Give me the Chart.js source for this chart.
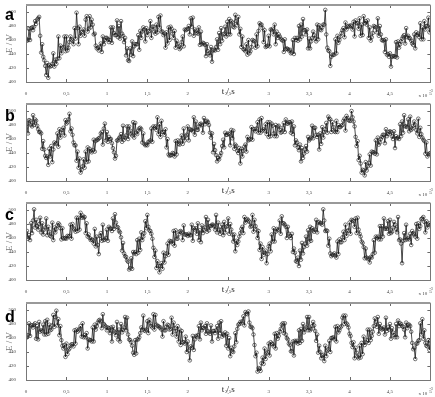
<!DOCTYPE html>
<html>
<head>
<meta charset="utf-8">
<script src="https://cdn.jsdelivr.net/npm/chart.js@4/dist/chart.umd.min.js"></script>
<style>
body { margin: 0; background: #fff; width: 435px; height: 397px; position: relative; overflow: hidden; }
.panel { position: absolute; left: 0; width: 435px; height: 99px; }
.letter { position: absolute; left: 5px; font: bold 16px "Liberation Sans", Arial, sans-serif; line-height: 16px; color: #000; }
</style>
</head>
<body>

<div class="panel" style="top:0px"><canvas id="chartA" width="435" height="99"></canvas></div>
<div class="panel" style="top:99px"><canvas id="chartB" width="435" height="99"></canvas></div>
<div class="panel" style="top:198px"><canvas id="chartC" width="435" height="99"></canvas></div>
<div class="panel" style="top:298px"><canvas id="chartD" width="435" height="99"></canvas></div>

<div class="letter" style="top:7px">a</div>
<div class="letter" style="top:108px">b</div>
<div class="letter" style="top:207px">c</div>
<div class="letter" style="top:309px">d</div>

<script>
// ============================
// DATA  (E / V, one sample every 0.0125 x 10^-3 s)
// ============================

const dt = 0.0125;

const xTicks = [0, 0.5, 1, 1.5, 2, 2.5, 3, 3.5, 4, 4.5, 5];
const yTicks = [400, 420, 440, 460, 480, 500];

const eA = [
    462,459,460,476,460,477,478,474,479,487,483,489,491,493,466,442,454,436,431,423,
    410,427,406,424,422,423,426,441,422,432,426,433,465,434,452,441,448,450,465,444,
    465,445,449,457,465,461,459,454,477,462,499,477,454,479,466,471,472,475,466,489,
    494,472,476,494,478,489,482,468,469,452,448,449,445,450,455,443,465,454,460,463,
    463,461,457,460,478,456,478,470,467,467,488,464,480,462,487,469,466,457,463,438,
    448,431,430,448,439,458,437,451,454,454,454,467,446,473,463,472,478,475,458,477,
    467,472,473,487,463,479,479,472,469,482,471,493,478,495,472,472,467,469,449,471,
    455,478,460,479,476,469,463,473,449,459,454,451,447,449,457,465,451,475,474,475,
    476,480,468,491,479,492,466,475,473,470,469,478,453,472,454,456,455,453,437,454,
    444,441,438,450,429,445,446,445,450,461,446,470,454,477,459,468,469,479,465,486,
    468,490,468,487,485,479,478,496,487,481,493,468,476,450,465,447,446,444,454,439,
    460,441,444,450,460,459,458,449,468,451,473,484,482,482,477,457,474,450,451,452,
    466,451,475,474,476,468,482,454,472,463,468,465,462,460,459,443,461,447,448,447,
    445,446,441,442,460,440,463,460,463,459,480,461,482,465,490,474,474,468,475,448,
    462,448,458,463,472,467,462,458,482,461,481,475,474,478,482,482,503,468,449,445,
    444,423,436,439,439,439,461,441,466,456,460,465,470,474,477,464,485,475,479,480,
    479,481,480,475,486,465,488,484,484,476,491,466,482,467,494,484,487,482,488,463,
    478,459,464,470,480,479,478,471,491,466,480,468,460,459,460,443,461,439,440,436,
    441,422,436,437,437,436,457,435,458,449,454,458,462,465,467,455,477,464,466,463,
    462,459,455,453,468,448,471,467,469,464,484,461,478,461,487,475,480,480,492,471,
    478
];

const eB = [
    483,482,468,487,486,480,478,494,480,488,486,479,474,470,470,468,446,457,445,436,
    433,435,423,446,435,450,427,445,455,453,454,468,449,474,462,469,473,476,465,487,
    482,484,488,496,471,475,466,455,451,451,429,442,419,432,412,416,421,431,419,442,
    427,448,428,446,443,441,444,459,442,457,459,459,461,462,468,470,452,475,482,458,
    470,456,463,460,460,454,447,441,432,436,458,458,461,463,467,456,479,459,462,465,
    478,460,478,472,467,465,484,462,483,469,467,472,475,476,474,455,468,453,451,452,
    451,456,456,458,475,456,478,476,478,473,491,467,481,463,486,470,470,466,474,448,
    460,438,436,437,437,440,439,435,457,438,458,453,452,458,465,453,475,458,464,466,
    478,458,474,473,473,471,491,466,485,473,473,478,481,482,480,469,490,481,485,486,
    484,480,469,462,468,441,453,444,437,428,433,431,436,440,450,459,448,469,466,466,
    468,467,451,473,461,472,446,452,450,443,440,447,425,446,435,443,449,452,442,463,
    458,459,460,477,459,474,474,471,475,484,469,488,469,490,472,474,472,481,467,484,
    463,484,464,482,479,468,464,480,464,478,479,473,469,470,476,483,470,488,482,482,
    484,484,469,485,467,478,451,458,455,448,444,452,428,447,433,439,445,450,442,463,
    458,460,462,479,461,476,476,466,463,466,445,468,453,477,462,470,474,483,469,492,
    489,488,470,484,477,471,470,486,470,480,477,477,479,480,486,489,472,493,490,487,
    486,486,500,491,485,478,463,450,457,430,436,425,412,416,415,408,427,415,421,426,
    438,422,442,441,441,439,458,438,462,452,455,460,463,466,466,454,474,464,467,470,
    471,470,464,460,471,447,464,461,462,460,481,464,485,469,494,478,478,477,488,471,
    492,473,475,479,485,480,473,468,489,463,476,467,462,459,457,439,455,435,438,439,
    440
];

const eC = [
    466,470,459,464,457,481,467,485,501,475,486,477,472,480,489,468,481,465,472,475,
    488,464,476,469,463,462,482,457,475,468,473,478,481,479,474,458,474,460,459,460,
    459,463,462,463,479,459,480,474,472,469,489,470,489,472,496,489,492,489,490,467,
    481,462,465,460,457,458,457,452,473,448,462,450,437,463,467,456,479,457,458,460,
    472,456,476,474,473,470,488,473,494,482,476,475,470,468,461,442,453,438,434,433,
    428,426,415,417,431,416,440,438,440,437,457,439,459,443,468,457,462,467,484,474,
    493,476,471,470,466,459,446,433,442,417,427,420,411,420,424,416,439,425,434,438,
    452,436,456,455,455,452,470,449,471,459,459,465,469,470,468,457,478,465,465,465,
    463,466,464,464,479,456,474,472,474,466,481,457,471,454,478,467,472,475,490,469,
    486,471,477,477,479,479,477,472,493,468,482,472,466,472,479,464,483,468,476,477,
    488,466,480,472,465,455,465,441,456,450,455,462,467,473,476,467,490,482,486,487,
    485,483,476,477,493,469,486,477,472,460,470,443,452,430,447,436,439,442,424,437,
    448,452,441,465,455,474,455,469,473,471,472,485,466,491,481,481,479,476,460,476,
    466,463,460,466,440,445,439,427,426,432,420,442,429,453,438,447,452,462,449,471,
    455,476,456,474,471,469,472,486,468,482,483,481,481,479,501,485,470,471,470,449,
    459,438,434,436,436,438,435,432,455,437,458,454,454,461,469,457,479,463,470,471,
    482,466,486,485,484,476,488,467,489,472,466,462,455,453,447,431,445,432,430,431,
    425,433,432,437,457,439,462,460,462,458,477,458,477,462,488,473,474,473,484,466,
    486,467,469,475,483,479,473,468,490,457,458,452,424,456,467,457,479,458,460,458,
    466,450,470,467,465,462,480,459,481,473,477,487,488,490,483,468,484,475,479,481,
    479
];

const eD = [
    460,462,464,481,463,478,478,475,479,481,459,477,458,483,469,471,470,479,465,484,
    465,486,466,479,471,472,478,493,476,490,499,478,487,464,477,457,449,445,450,433,
    452,437,443,445,449,451,451,448,471,452,472,469,471,473,477,462,481,461,464,461,
    467,445,458,457,457,455,475,455,479,472,477,482,485,486,484,474,494,480,478,476,
    471,475,474,467,475,455,476,470,468,464,483,458,472,455,480,468,472,475,490,471,
    489,465,458,457,454,449,439,436,457,438,458,458,461,467,475,472,492,471,470,472,
    484,467,486,481,477,475,494,472,493,479,477,477,475,475,472,462,484,471,471,476,
    479,478,472,473,489,465,482,474,470,462,477,455,472,450,470,454,454,452,462,440,
    455,442,428,448,446,463,443,458,463,462,464,477,458,482,471,474,475,477,466,481,
    470,468,466,478,455,470,470,467,471,477,459,482,467,484,462,465,464,468,449,466,
    445,460,434,446,441,440,448,467,454,473,479,480,483,481,484,491,478,497,495,494,
    498,482,476,476,474,465,450,434,439,412,417,416,413,424,432,423,445,430,438,440,
    452,435,454,452,451,448,466,445,467,459,463,469,473,479,481,467,481,465,460,458,
    452,450,441,441,455,435,456,454,456,452,471,453,473,456,480,468,473,475,490,471,
    490,471,473,477,483,478,470,456,465,439,449,440,431,435,436,427,449,434,442,444,
    456,440,460,460,461,458,476,455,477,468,471,475,477,489,492,480,492,481,479,475,
    466,463,453,447,454,431,446,439,433,431,449,432,453,437,462,450,454,457,472,453,
    472,457,463,469,477,488,483,476,490,466,480,474,472,473,475,465,489,470,475,472,
    480,459,474,468,464,461,480,461,485,477,481,480,477,476,472,461,482,474,479,479,
    477,469,453,444,446,430,452,452,456,457,481,465,487,459,471,453,449,448,457,443,
    456
];


// ============================
// FRAME + INNER TICKS
// ============================

const frameTicks = {
    id: 'frameTicks',
    afterDraw(chart) {
        const {ctx, chartArea: a, scales} = chart;
        ctx.save();
        ctx.strokeStyle = '#444';
        ctx.lineWidth = 0.8;
        ctx.beginPath();
        xTicks.forEach(v => {
            const x = Math.round(scales.x.getPixelForValue(v)) + 0.5;
            ctx.moveTo(x, a.bottom); ctx.lineTo(x, a.bottom - 3);
            ctx.moveTo(x, a.top); ctx.lineTo(x, a.top + 3);
        });
        yTicks.forEach(v => {
            const y = Math.round(scales.y.getPixelForValue(v)) + 0.5;
            ctx.moveTo(a.left, y); ctx.lineTo(a.left + 3, y);
            ctx.moveTo(a.right, y); ctx.lineTo(a.right - 3, y);
        });
        ctx.stroke();

        ctx.strokeStyle = '#777';
        ctx.lineWidth = 1;
        ctx.strokeRect(Math.round(a.left) + 0.5, Math.round(a.top) + 0.5,
            Math.round(a.width), Math.round(a.height));
        ctx.strokeStyle = '#999';
        ctx.lineWidth = 2;
        ctx.beginPath();
        ctx.moveTo(a.left, Math.round(a.top));
        ctx.lineTo(a.right, Math.round(a.top));
        ctx.stroke();

        // x 10^-3 multiplier
        ctx.fillStyle = '#444';
        ctx.textAlign = 'left';
        ctx.textBaseline = 'alphabetic';
        ctx.font = '5px "Liberation Serif"';
        ctx.fillText('x 10', a.right - 12, a.bottom + 15);
        ctx.font = '4px "Liberation Serif"';
        ctx.fillText('-3', a.right - 1, a.bottom + 10);
        ctx.restore();
    }
};


// ============================
// PANELS
// ============================

function makeChart(id, values) {

    const points = values.map((e, i) => ({x: i * dt, y: e}));

    return new Chart(document.getElementById(id), {

        type: 'scatter',

        data: {

            datasets: [{

                data: points,

                showLine: true,
                borderColor: '#000',
                borderWidth: 0.7,
                pointRadius: 1.8,
                pointBorderWidth: 0.6,
                pointBorderColor: '#1a1a1a',
                pointBackgroundColor: 'rgba(255,255,255,0)'

            }]

        },

        options: {

            responsive: false,
            animation: false,
            layout: { padding: { top: 4, right: 4, left: 0, bottom: 0 } },

            plugins: {
                legend: { display: false },
                tooltip: { enabled: false }
            },

            scales: {

                x: {
                    type: 'linear',
                    min: 0,
                    max: 5,
                    grid: { display: false },
                    border: { display: false },
                    afterBuildTicks: s => { s.ticks = xTicks.map(v => ({value: v})); },
                    afterFit: s => { s.height = 17; },
                    ticks: {
                        padding: 1,
                        maxRotation: 0,
                        autoSkip: false,
                        color: '#444',
                        font: { size: 5, family: 'Liberation Serif' },
                        callback: v => String(v).replace('.', ',')
                    },
                    title: {
                        display: true,
                        text: 't / s',
                        color: '#222',
                        padding: { top: 0, bottom: 2 },
                        font: { size: 9, family: 'Liberation Serif' }
                    }
                },

                y: {
                    min: 400,
                    max: 510,
                    grid: { display: false },
                    border: { display: false },
                    afterBuildTicks: s => { s.ticks = yTicks.map(v => ({value: v})); },
                    afterFit: s => { s.width = 26; },
                    ticks: {
                        padding: 2,
                        autoSkip: false,
                        color: '#444',
                        font: { size: 5, family: 'Liberation Serif' }
                    },
                    title: {
                        display: true,
                        text: 'E / V',
                        color: '#777',
                        padding: { top: 4, bottom: 0 },
                        font: { size: 9, family: 'Liberation Serif' }
                    }
                }

            }

        },

        plugins: [frameTicks]

    });

}

makeChart('chartA', eA);
makeChart('chartB', eB);
makeChart('chartC', eC);
makeChart('chartD', eD);
</script>
</body>
</html>
